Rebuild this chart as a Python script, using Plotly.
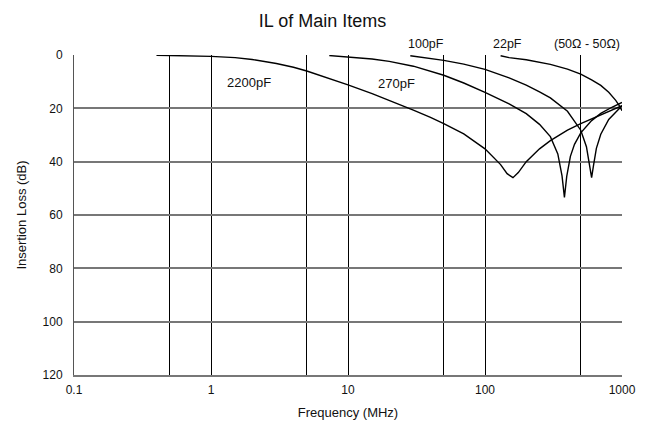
import math
import plotly.graph_objects as go

# ---- data ----
f_2200 = [0.4, 0.7, 1, 1.5, 2, 3, 4, 5, 7, 10, 15, 20, 30, 40, 50, 70, 100, 130, 145, 160, 175, 200, 250, 300, 400, 500, 700, 1000]
il_2200 = [0.1, 0.25, 0.5, 1.0, 1.7, 3.2, 4.6, 6.0, 8.4, 11.2, 14.5, 17.0, 20.7, 23.4, 25.7, 29.6, 35.2, 41.1, 44.5, 46.0, 44.1, 40.0, 35.2, 32.1, 28.2, 25.7, 22.3, 19.0]

f_270 = [7.3, 10, 15, 20, 30, 50, 70, 100, 150, 200, 250, 300, 340, 365, 380, 395, 420, 450, 500, 600, 700, 850, 1000]
il_270 = [0.2, 0.7, 1.5, 2.4, 4.2, 7.6, 10.5, 14.0, 18.3, 22.0, 26.0, 30.6, 37.1, 45.3, 53.4, 45.5, 38.0, 33.5, 29.2, 24.6, 21.9, 19.5, 17.8]

f_100 = [28.5, 40, 50, 70, 100, 150, 200, 250, 300, 400, 500, 550, 580, 600, 620, 650, 700, 800, 1000]
il_100 = [0.3, 1.4, 2.0, 3.4, 5.4, 8.6, 11.3, 13.8, 16.1, 21.1, 28.2, 34.4, 41.2, 46.0, 41.3, 35.0, 29.7, 24.2, 19.0]

f_22 = [130, 150, 200, 250, 300, 400, 500, 600, 700, 800, 850, 900, 950, 1000]
il_22 = [0.3, 1.0, 1.8, 2.6, 3.5, 5.3, 7.2, 9.3, 11.4, 14.0, 15.4, 17.0, 18.8, 20.9]

x_tickvals = [0.1, 0.5, 1, 5, 10, 50, 100, 500, 1000]
x_ticktext = ["0.1", "", "1", "", "10", "", "100", "", "1000"]
y_tickvals = [0, 20, 40, 60, 80, 100, 120]

inner_labels = ["2200pF", "270pF"]
top_labels = ["100pF", "22pF", "(50\u03a9 - 50\u03a9)"]

FONT = "Liberation Sans, Arial, sans-serif"
TXT = "#111"

fig = go.Figure()
for fx, iy in [(f_2200, il_2200), (f_270, il_270), (f_100, il_100), (f_22, il_22)]:
    fig.add_trace(go.Scatter(x=fx, y=iy, mode="lines",
                             line=dict(color="black", width=1.4),
                             showlegend=False, hoverinfo="skip"))

for txt, (lx, ly) in zip(inner_labels, [(1.9, 10.3), (22.7, 10.8)]):
    fig.add_annotation(x=math.log10(lx), y=ly, xref="x", yref="y", text=txt,
                       showarrow=False, font=dict(family=FONT, size=13, color=TXT),
                       xanchor="center", yanchor="middle")
for txt, lx in zip(top_labels, [37.1, 145.5, 551]):
    fig.add_annotation(x=math.log10(lx), y=1.034, xref="x", yref="paper", text=txt,
                       showarrow=False, font=dict(family=FONT, size=12.5, color=TXT),
                       xanchor="center", yanchor="middle")

fig.update_layout(
    width=629, height=412,
    margin=dict(l=66, r=15, t=47, b=45, autoexpand=False),
    paper_bgcolor="white", plot_bgcolor="white",
    title=dict(text="IL of Main Items", x=0.5, xref="container", xanchor="center",
               y=1 - 13 / 412, yref="container", yanchor="middle",
               font=dict(family=FONT, size=18, color=TXT)),
    font=dict(family=FONT, size=12, color=TXT),
)
fig.update_xaxes(type="log", range=[-1, 3], tickvals=x_tickvals, ticktext=x_ticktext,
                 showgrid=True, gridcolor="black", gridwidth=1,
                 showline=True, linecolor="#777", linewidth=2,
                 ticks="", ticklabelstandoff=3, zeroline=False, automargin=False,
                 title=dict(text="Frequency (MHz)", standoff=14,
                            font=dict(family=FONT, size=13, color=TXT)),
                 tickfont=dict(family=FONT, size=12, color=TXT))
fig.update_yaxes(range=[120, 0], tickvals=y_tickvals,
                 showgrid=True, gridcolor="#777", gridwidth=2,
                 showline=True, linecolor="#555", linewidth=1,
                 ticks="", ticklabelstandoff=8, zeroline=False, automargin=False,
                 title=dict(text="Insertion Loss (dB)", standoff=13,
                            font=dict(family=FONT, size=13, color=TXT)),
                 tickfont=dict(family=FONT, size=12, color=TXT))

fig.write_html("out.html")
